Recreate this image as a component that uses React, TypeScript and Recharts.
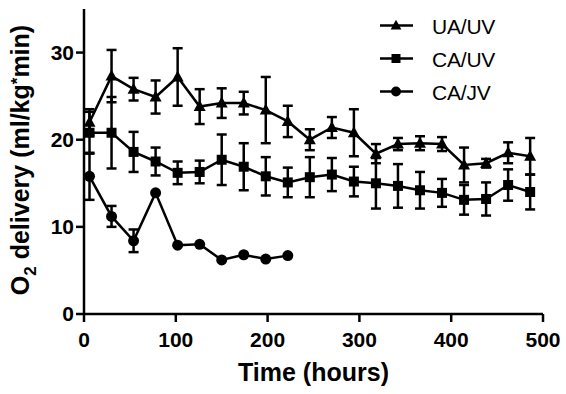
import { ErrorBar, Label, Line, LineChart, XAxis, YAxis } from "recharts";

const hours = [6, 30, 54, 78, 102, 126, 150, 174, 198, 222, 246, 270, 294, 318, 342, 366, 390, 414, 438, 462, 486];
const uaUv = [22, 27.3, 25.8, 24.9, 27.2, 23.8, 24.2, 24.2, 23.4, 22.1, 20.0, 21.4, 20.8, 18.4, 19.5, 19.6, 19.5, 17.1, 17.3, 18.5, 18.1];
const uaUvSem = [1.5, 3, 1.3, 1.9, 3.3, 2, 1.7, 1.3, 3.8, 1.8, 1.2, 1.2, 2.7, 1.1, 0.7, 0.8, 0.8, 2, 0.5, 1.2, 2.1];
const caUv = [20.8, 20.8, 18.6, 17.5, 16.2, 16.3, 17.7, 16.9, 15.8, 15.1, 15.7, 16.0, 15.2, 15.0, 14.7, 14.2, 13.9, 13.1, 13.2, 14.8, 14.0];
const caUvSem = [2.4, 4.1, 2.3, 1.6, 1.3, 1.3, 2.9, 2.7, 2.2, 1.7, 2.3, 1.9, 1.7, 2.9, 2.5, 2.1, 1.6, 1.7, 1.9, 1.8, 2];
const caJvHours = [6, 30, 54, 78, 102, 126, 150, 174, 198, 222];
const caJv = [15.8, 11.2, 8.4, 13.9, 7.9, 8.0, 6.2, 6.8, 6.3, 6.7];
const caJvSem = [2.7, 1.2, 1.3, 0, 0, 0, 0, 0, 0, 0];

const legendNames = ["UA/UV", "CA/UV", "CA/JV"];
const xTicks = [0, 100, 200, 300, 400, 500];
const yTicks = [0, 10, 20, 30];

const uaData = hours.map((t, i) => ({ t, v: uaUv[i], e: uaUvSem[i] }));
const cauData = hours.map((t, i) => ({ t, v: caUv[i], e: caUvSem[i] }));
const cajData = caJvHours.map((t, i) => ({ t, v: caJv[i], e: caJvSem[i] }));

const font = "Arial, 'Liberation Sans', sans-serif";

function Marker({ kind, cx, cy, s = 1 }: { kind: string; cx: number; cy: number; s?: number }) {
  if (kind === "tri") {
    return <polygon points={`${cx},${cy - 6.5 * s} ${cx + 6 * s},${cy + 4.5 * s} ${cx - 6 * s},${cy + 4.5 * s}`} fill="#000" />;
  }
  if (kind === "sq") {
    return <rect x={cx - 5 * s} y={cy - 5 * s} width={10 * s} height={10 * s} fill="#000" />;
  }
  return <circle cx={cx} cy={cy} r={5.5 * s} fill="#000" />;
}

const dot = (kind: string) => (p: any) => <Marker key={`${kind}-${p.index}`} kind={kind} cx={p.cx} cy={p.cy} />;

function YLabel() {
  return (
    <text
      transform="translate(29,160) rotate(-90)"
      textAnchor="middle"
      fontFamily={font}
      fontWeight="bold"
      fontSize={25}
      fill="#000"
    >
      O<tspan fontSize={17} dy={7}>2</tspan>
      <tspan dy={-7}> delivery (ml/kg</tspan>
      <tspan fontSize={17} dy={-6}>*</tspan>
      <tspan dy={6}>min)</tspan>
    </text>
  );
}

function LegendBox() {
  const kinds = ["tri", "sq", "circ"];
  return (
    <g>
      {legendNames.map((n, i) => {
        const y = 25.5 + i * 33;
        return (
          <g key={n}>
            <line x1={380} x2={413} y1={y} y2={y} stroke="#000" strokeWidth={2.5} />
            <Marker kind={kinds[i]} cx={396} cy={y} s={0.9} />
            <text x={432} y={y + 8.5} fontFamily={font} fontSize={21} letterSpacing={-0.2} fill="#000">
              {n}
            </text>
          </g>
        );
      })}
    </g>
  );
}

export default function App() {
  return (
    <div style={{ position: "absolute", left: 0, top: 0, background: "#fff" }}>
      <LineChart width={566} height={394} margin={{ top: 9, right: 23, bottom: 0, left: 0 }}>
        <XAxis
          type="number"
          dataKey="t"
          domain={[0, 500]}
          ticks={xTicks}
          height={80}
          stroke="#000"
          strokeWidth={2.5}
          tickSize={8}
          tick={{ fill: "#000", fontSize: 21, fontWeight: "bold", fontFamily: font, dy: 8 }}
          allowDuplicatedCategory={false}
        >
          <Label
            value="Time (hours)"
            position="insideBottom"
            offset={13}
            style={{ fill: "#000", fontSize: 25, fontWeight: "bold", fontFamily: font }}
          />
        </XAxis>
        <YAxis
          type="number"
          domain={[0, 35]}
          ticks={yTicks}
          width={84}
          stroke="#000"
          strokeWidth={2.5}
          tickSize={8}
          tick={{ fill: "#000", fontSize: 21, fontWeight: "bold", fontFamily: font }}
        >
          <Label content={<YLabel />} />
        </YAxis>
        <Line data={uaData} dataKey="v" stroke="#000" strokeWidth={2.5} dot={dot("tri")} isAnimationActive={false}>
          <ErrorBar dataKey="e" width={5} stroke="#000" strokeWidth={2.5} direction="y" />
        </Line>
        <Line data={cauData} dataKey="v" stroke="#000" strokeWidth={2.5} dot={dot("sq")} isAnimationActive={false}>
          <ErrorBar dataKey="e" width={5} stroke="#000" strokeWidth={2.5} direction="y" />
        </Line>
        <Line data={cajData} dataKey="v" stroke="#000" strokeWidth={2.5} dot={dot("circ")} isAnimationActive={false}>
          <ErrorBar dataKey="e" width={5} stroke="#000" strokeWidth={2.5} direction="y" />
        </Line>
        <LegendBox />
      </LineChart>
    </div>
  );
}
